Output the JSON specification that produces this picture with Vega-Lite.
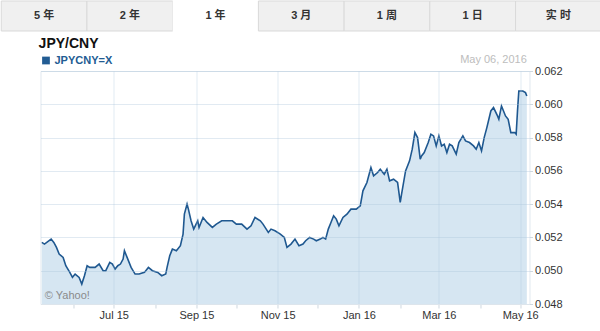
{
  "$schema": "https://vega.github.io/schema/vega-lite/v6.json",
  "padding": 0,
  "background": "white",
  "center": true,
  "spacing": 4,
  "resolve": {"legend": {"color": "independent"}, "scale": {"color": "independent"}},
  "config": {
    "font": "Liberation Sans, 'Noto Sans CJK SC', sans-serif",
    "view": {"stroke": null}
  },
  "vconcat": [
    {
      "width": 600,
      "height": 30,
      "data": {"values": [{"tab": "5 年"}, {"tab": "2 年"}, {"tab": "1 年"}, {"tab": "3 月"}, {"tab": "1 周"}, {"tab": "1 日"}, {"tab": "实 时"}]},
      "encoding": {
        "x": {"field": "tab", "type": "nominal", "sort": null, "axis": null, "scale": {"paddingInner": 0, "paddingOuter": 0}}
      },
      "layer": [
        {
          "mark": {"type": "rect", "stroke": "#d9d9d9", "strokeWidth": 1},
          "encoding": {
            "fill": {"condition": {"test": "datum.tab === '1 年'", "value": "#ffffff"}, "value": "#f0f0f0"},
            "strokeOpacity": {"condition": {"test": "datum.tab === '1 年'", "value": 0}, "value": 1}
          }
        },
        {
          "mark": {"type": "text", "fontWeight": "bold", "fontSize": 11, "color": "#333333"},
          "encoding": {"text": {"field": "tab"}}
        }
      ]
    },
    {
      "width": 489,
      "height": 233,
      "view": {"stroke": "#e1e8ef"},
      "title": {"text": "JPY/CNY", "anchor": "start", "fontSize": 14, "fontWeight": "bold", "color": "#111111", "offset": 3},
      "data": {"values": [
        {"date": "2015-05-08", "value": 0.0517},
        {"date": "2015-05-10", "value": 0.0516},
        {"date": "2015-05-15", "value": 0.0519},
        {"date": "2015-05-17", "value": 0.0517},
        {"date": "2015-05-19", "value": 0.0514},
        {"date": "2015-05-21", "value": 0.0510},
        {"date": "2015-05-24", "value": 0.0508},
        {"date": "2015-05-26", "value": 0.0503},
        {"date": "2015-05-29", "value": 0.0499},
        {"date": "2015-05-31", "value": 0.0496},
        {"date": "2015-06-02", "value": 0.0498},
        {"date": "2015-06-05", "value": 0.0496},
        {"date": "2015-06-07", "value": 0.0492},
        {"date": "2015-06-09", "value": 0.0497},
        {"date": "2015-06-11", "value": 0.0503},
        {"date": "2015-06-13", "value": 0.0502},
        {"date": "2015-06-17", "value": 0.0502},
        {"date": "2015-06-20", "value": 0.0504},
        {"date": "2015-06-23", "value": 0.0500},
        {"date": "2015-06-25", "value": 0.0500},
        {"date": "2015-06-28", "value": 0.0505},
        {"date": "2015-06-30", "value": 0.0504},
        {"date": "2015-07-02", "value": 0.0501},
        {"date": "2015-07-04", "value": 0.0503},
        {"date": "2015-07-06", "value": 0.0504},
        {"date": "2015-07-08", "value": 0.0507},
        {"date": "2015-07-09", "value": 0.0512},
        {"date": "2015-07-11", "value": 0.0508},
        {"date": "2015-07-14", "value": 0.0502},
        {"date": "2015-07-17", "value": 0.0498},
        {"date": "2015-07-20", "value": 0.0498},
        {"date": "2015-07-24", "value": 0.0499},
        {"date": "2015-07-27", "value": 0.0502},
        {"date": "2015-07-30", "value": 0.0500},
        {"date": "2015-08-03", "value": 0.0499},
        {"date": "2015-08-06", "value": 0.0497},
        {"date": "2015-08-09", "value": 0.0498},
        {"date": "2015-08-10", "value": 0.0502},
        {"date": "2015-08-12", "value": 0.0509},
        {"date": "2015-08-14", "value": 0.0513},
        {"date": "2015-08-17", "value": 0.0512},
        {"date": "2015-08-20", "value": 0.0515},
        {"date": "2015-08-22", "value": 0.0522},
        {"date": "2015-08-23", "value": 0.0534},
        {"date": "2015-08-25", "value": 0.0540},
        {"date": "2015-08-26", "value": 0.0537},
        {"date": "2015-08-28", "value": 0.0530},
        {"date": "2015-08-30", "value": 0.0525},
        {"date": "2015-09-02", "value": 0.0530},
        {"date": "2015-09-03", "value": 0.0526},
        {"date": "2015-09-06", "value": 0.0532},
        {"date": "2015-09-09", "value": 0.0529},
        {"date": "2015-09-13", "value": 0.0526},
        {"date": "2015-09-16", "value": 0.0528},
        {"date": "2015-09-20", "value": 0.0530},
        {"date": "2015-09-24", "value": 0.0530},
        {"date": "2015-09-28", "value": 0.0530},
        {"date": "2015-10-01", "value": 0.0528},
        {"date": "2015-10-05", "value": 0.0528},
        {"date": "2015-10-09", "value": 0.0525},
        {"date": "2015-10-12", "value": 0.0527},
        {"date": "2015-10-15", "value": 0.0532},
        {"date": "2015-10-19", "value": 0.0530},
        {"date": "2015-10-21", "value": 0.0528},
        {"date": "2015-10-25", "value": 0.0523},
        {"date": "2015-10-27", "value": 0.0525},
        {"date": "2015-10-30", "value": 0.0524},
        {"date": "2015-11-03", "value": 0.0522},
        {"date": "2015-11-06", "value": 0.0520},
        {"date": "2015-11-08", "value": 0.0514},
        {"date": "2015-11-11", "value": 0.0516},
        {"date": "2015-11-14", "value": 0.0519},
        {"date": "2015-11-17", "value": 0.0515},
        {"date": "2015-11-20", "value": 0.0516},
        {"date": "2015-11-22", "value": 0.0518},
        {"date": "2015-11-25", "value": 0.0520},
        {"date": "2015-11-28", "value": 0.0519},
        {"date": "2015-11-30", "value": 0.0518},
        {"date": "2015-12-03", "value": 0.0519},
        {"date": "2015-12-05", "value": 0.0520},
        {"date": "2015-12-07", "value": 0.0519},
        {"date": "2015-12-09", "value": 0.0525},
        {"date": "2015-12-11", "value": 0.0529},
        {"date": "2015-12-13", "value": 0.0533},
        {"date": "2015-12-15", "value": 0.0531},
        {"date": "2015-12-17", "value": 0.0527},
        {"date": "2015-12-20", "value": 0.0532},
        {"date": "2015-12-23", "value": 0.0534},
        {"date": "2015-12-26", "value": 0.0537},
        {"date": "2015-12-30", "value": 0.0537},
        {"date": "2016-01-02", "value": 0.0539},
        {"date": "2016-01-04", "value": 0.0548},
        {"date": "2016-01-07", "value": 0.0553},
        {"date": "2016-01-10", "value": 0.0562},
        {"date": "2016-01-12", "value": 0.0557},
        {"date": "2016-01-15", "value": 0.0559},
        {"date": "2016-01-17", "value": 0.0561},
        {"date": "2016-01-20", "value": 0.0558},
        {"date": "2016-01-22", "value": 0.0561},
        {"date": "2016-01-24", "value": 0.0554},
        {"date": "2016-01-27", "value": 0.0555},
        {"date": "2016-01-30", "value": 0.0553},
        {"date": "2016-02-01", "value": 0.0541},
        {"date": "2016-02-02", "value": 0.0546},
        {"date": "2016-02-05", "value": 0.0560},
        {"date": "2016-02-08", "value": 0.0566},
        {"date": "2016-02-10", "value": 0.0573},
        {"date": "2016-02-12", "value": 0.0583},
        {"date": "2016-02-14", "value": 0.0580},
        {"date": "2016-02-16", "value": 0.0567},
        {"date": "2016-02-17", "value": 0.0569},
        {"date": "2016-02-19", "value": 0.0571},
        {"date": "2016-02-22", "value": 0.0577},
        {"date": "2016-02-24", "value": 0.0582},
        {"date": "2016-02-26", "value": 0.0581},
        {"date": "2016-02-28", "value": 0.0575},
        {"date": "2016-03-01", "value": 0.0581},
        {"date": "2016-03-03", "value": 0.0575},
        {"date": "2016-03-05", "value": 0.0576},
        {"date": "2016-03-07", "value": 0.0571},
        {"date": "2016-03-09", "value": 0.0576},
        {"date": "2016-03-11", "value": 0.0575},
        {"date": "2016-03-14", "value": 0.0570},
        {"date": "2016-03-16", "value": 0.0577},
        {"date": "2016-03-19", "value": 0.0581},
        {"date": "2016-03-21", "value": 0.0578},
        {"date": "2016-03-24", "value": 0.0577},
        {"date": "2016-03-27", "value": 0.0575},
        {"date": "2016-03-29", "value": 0.0573},
        {"date": "2016-03-31", "value": 0.0577},
        {"date": "2016-04-02", "value": 0.0572},
        {"date": "2016-04-04", "value": 0.0580},
        {"date": "2016-04-06", "value": 0.0586},
        {"date": "2016-04-09", "value": 0.0596},
        {"date": "2016-04-11", "value": 0.0598},
        {"date": "2016-04-14", "value": 0.0593},
        {"date": "2016-04-15", "value": 0.0591},
        {"date": "2016-04-17", "value": 0.0599},
        {"date": "2016-04-20", "value": 0.0593},
        {"date": "2016-04-22", "value": 0.0591},
        {"date": "2016-04-24", "value": 0.0583},
        {"date": "2016-04-27", "value": 0.0583},
        {"date": "2016-04-28", "value": 0.0582},
        {"date": "2016-04-29", "value": 0.0596},
        {"date": "2016-04-30", "value": 0.0608},
        {"date": "2016-05-03", "value": 0.0608},
        {"date": "2016-05-05", "value": 0.0607},
        {"date": "2016-05-06", "value": 0.0605}
      ]},
      "encoding": {
        "x": {
          "field": "date", "type": "temporal",
          "scale": {"domain": [{"year": 2015, "month": 5, "date": 7}, {"year": 2016, "month": 5, "date": 8}]},
          "axis": {
            "title": null,
            "values": [
              {"year": 2015, "month": 6, "date": 1}, {"year": 2015, "month": 7, "date": 1}, {"year": 2015, "month": 8, "date": 1},
              {"year": 2015, "month": 9, "date": 1}, {"year": 2015, "month": 10, "date": 1}, {"year": 2015, "month": 11, "date": 1},
              {"year": 2015, "month": 12, "date": 1}, {"year": 2016, "month": 1, "date": 1}, {"year": 2016, "month": 2, "date": 1},
              {"year": 2016, "month": 3, "date": 1}, {"year": 2016, "month": 4, "date": 1}, {"year": 2016, "month": 5, "date": 1}
            ],
            "labelExpr": "month(datum.value) % 2 == 0 ? timeFormat(datum.value, '%b %y') : ''",
            "labelFontSize": 11,
            "labelColor": "#333333",
            "labelPadding": 1,
            "tickSize": 4,
            "tickColor": "#cfd8e0",
            "domainColor": "#dde5ec",
            "gridColor": "#aac3da",
            "gridOpacity": {"condition": {"test": "month(datum.value) % 2 == 0", "value": 0.35}, "value": 0},
            "zindex": 1
          }
        },
        "y": {
          "field": "value", "type": "quantitative",
          "scale": {"domain": [0.048, 0.062], "zero": false, "nice": false},
          "axis": {
            "orient": "right",
            "title": null,
            "values": [0.048, 0.050, 0.052, 0.054, 0.056, 0.058, 0.060, 0.062],
            "format": ".3f",
            "labelFontSize": 11,
            "labelColor": "#333333",
            "labelPadding": 2,
            "tickSize": 3,
            "tickColor": "#cfd8e0",
            "domain": false,
            "gridColor": "#aac3da",
            "gridOpacity": 0.35,
            "zindex": 1
          }
        }
      },
      "layer": [
        {"mark": {"type": "area", "color": "#d6e6f2", "clip": true}},
        {
          "mark": {"type": "line", "strokeWidth": 1.6},
          "encoding": {
            "color": {
              "datum": "JPYCNY=X",
              "scale": {"range": ["#1f5890"]},
              "legend": {
                "orient": "top",
                "title": null,
                "symbolType": "square",
                "symbolSize": 60,
                "labelFontSize": 11,
                "labelFontWeight": "bold",
                "labelColor": "#225c93",
                "labelOffset": 3,
                "offset": 5,
                "padding": 0,
                "encode": {"symbols": {"update": {"fill": {"value": "#225c93"}, "strokeWidth": {"value": 0}, "shape": {"value": "square"}}}}
              }
            }
          }
        },
        {
          "transform": [{"filter": {"field": "date", "equal": {"year": 2016, "month": 5, "date": 6}}}],
          "mark": {"type": "text", "text": "May 06, 2016", "align": "right", "baseline": "middle", "dy": -11, "fontSize": 11, "color": "#bdbdbd"},
          "encoding": {"y": {"datum": 0.062}}
        },
        {
          "transform": [{"filter": {"field": "date", "equal": {"year": 2015, "month": 5, "date": 8}}}],
          "mark": {"type": "text", "text": "© Yahoo!", "align": "left", "baseline": "middle", "dx": 3, "fontSize": 11, "color": "#8a8a8a"},
          "encoding": {"y": {"datum": 0.0485}}
        }
      ]
    }
  ]
}
